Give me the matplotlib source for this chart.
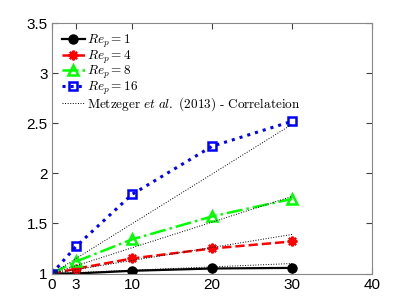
import matplotlib
matplotlib.use("Agg")
import matplotlib.pyplot as plt

# volume fraction (%) and relative settling / drag values
phi = [0, 3, 10, 20, 30]
re1 = [1.0, 1.0, 1.027, 1.05, 1.056]
re4 = [1.0, 1.047, 1.15, 1.25, 1.32]
re8 = [1.0, 1.12, 1.34, 1.57, 1.745]
re16 = [1.0, 1.27, 1.79, 2.27, 2.52]

# correlation curves (Metzger et al. 2013)
corr1 = [1.0, 1.01, 1.033, 1.066, 1.10]
corr4 = [1.0, 1.039, 1.13, 1.26, 1.39]
corr8 = [1.0, 1.077, 1.257, 1.513, 1.77]
corr16 = [1.0, 1.149, 1.497, 1.993, 2.49]

xticks = [0, 3, 10, 20, 30, 40]
yticks = [1, 1.5, 2, 2.5, 3, 3.5]
ytick_labels = ["1", "1.5", "2", "2.5", "3", "3.5"]

plt.rcParams["mathtext.fontset"] = "cm"
plt.rcParams["font.family"] = "Liberation Sans"

fig = plt.figure(figsize=(4.11, 3.08), dpi=100)
ax = fig.add_axes([0.1265, 0.112, 0.779, 0.813])

ax.plot(phi, re1, "-", color="k", lw=1.6, marker="o", ms=6.5, mfc="k",
        label=r"$Re_p=1$")
ax.plot(phi, re4, "--", color="red", lw=1.8, marker=(8, 2, 0), ms=7, mew=1.6,
        label=r"$Re_p=4$")
ax.plot(phi, re8, "-.", color="#00ff00", lw=1.8, marker="^", ms=7.5, mfc="none", mew=1.8,
        label=r"$Re_p=8$")
ax.plot(phi, re16, ":", color="blue", lw=2.2, marker="s", ms=5.5, mfc="none", mew=1.8,
        label=r"$Re_p=16$")

first = True
for c in [corr1, corr4, corr8, corr16]:
    ax.plot(phi, c, ":", color="k", lw=0.7,
            label=r"$\mathrm{Metzeger}\ et\ al.\ \mathrm{(2013)}\ \text{-}\ \mathrm{Correlateion}$" if first else None)
    first = False

ax.set_xlim(0, 40)
ax.set_ylim(1, 3.5)
ax.set_xticks(xticks)
ax.set_yticks(yticks)
ax.set_yticklabels(ytick_labels)
ax.tick_params(direction="in", top=True, right=True, labelsize=11, length=4,
               color="#404040", pad=3)
for s in ax.spines.values():
    s.set_color("#888888")
    s.set_linewidth(0.8)

leg = ax.legend(loc="upper left", frameon=False, handlelength=1.75,
                handletextpad=0.15, labelspacing=-0.12, borderaxespad=0.35,
                fontsize=9.5)

fig.savefig("out.png", dpi=100)
